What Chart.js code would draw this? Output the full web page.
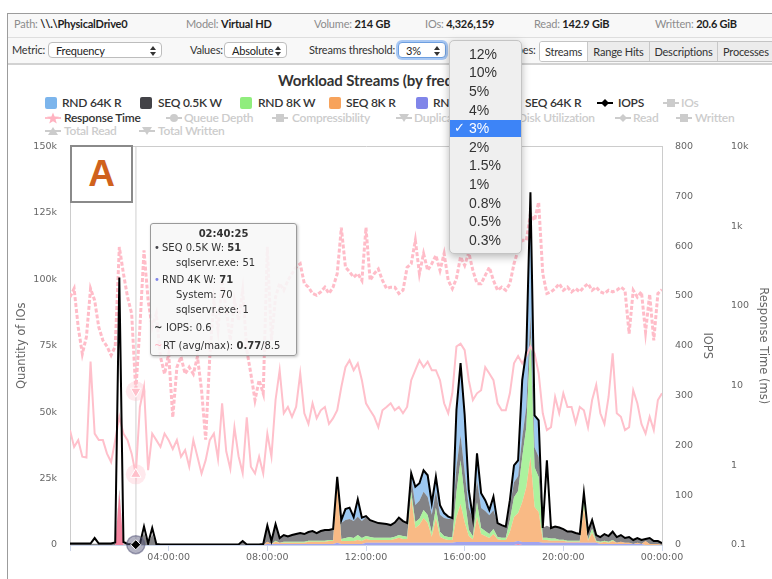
<!DOCTYPE html>
<html><head><meta charset="utf-8">
<script src="https://cdn.jsdelivr.net/npm/chart.js@4.4.1/dist/chart.umd.min.js"></script>
<style>
html,body{margin:0;padding:0;background:#fff;}
body{width:772px;height:579px;overflow:hidden;position:relative;font-family:Lato,"Noto Sans",sans-serif;color:#333;}
.a{position:absolute;white-space:nowrap;line-height:14px;}
#frame{position:absolute;left:7px;top:13px;width:765px;height:566px;border-left:1px solid #9c9c9c;border-top:1px solid #9c9c9c;}
#row1{position:absolute;left:8px;top:14px;width:764px;height:23px;background:#f8f8f8;border-bottom:1px solid #dedede;}
#row2{position:absolute;left:8px;top:38px;width:764px;height:25px;background:#f8f8f8;border-bottom:2px solid #d2d2d2;}
.h{font-size:11px;color:#8c8c8c;letter-spacing:-0.2px;}
.h b{color:#1e1e1e;font-weight:700;}
.c{font-size:11px;color:#333;letter-spacing:-0.2px;}
.sel{position:absolute;height:16px;border:1px solid #bdbdbd;border-radius:4px;background:#fff;font-size:11px;line-height:16px;padding-left:7px;box-sizing:border-box;color:#222;letter-spacing:-0.2px;white-space:nowrap;}
.sel svg{position:absolute;right:5px;top:3px;}
#btns{position:absolute;left:539px;top:41px;height:19px;width:240px;border:1px solid #c4c4c4;border-radius:3px;overflow:hidden;font-size:11px;letter-spacing:-0.2px;white-space:nowrap;}
#btns div{position:absolute;top:0;line-height:19px;height:19px;text-align:center;background:#ececec;border-left:1px solid #c8c8c8;color:#333;box-sizing:border-box;}
#btns div.on{background:#fff;border-left:none;}
#title{position:absolute;left:278px;top:72px;font-size:15px;font-weight:700;color:#333;line-height:16px;letter-spacing:-0.1px;white-space:nowrap;}
.lg{position:absolute;white-space:nowrap;font-size:12px;line-height:14px;color:#333;font-weight:600;letter-spacing:-0.25px;}
.lg.off{color:#cccccc;}
.lg svg{position:absolute;top:1px;}
#chartBox{position:absolute;left:8px;top:136px;width:764px;height:443px;}
#abox{position:absolute;left:70px;top:145px;width:59px;height:54px;border:2px solid #8a8a8a;background:#fff;text-align:center;font:bold 37px "Liberation Sans",Arial,sans-serif;line-height:54px;color:#d0621d;}
#tip{position:absolute;left:150px;top:223px;width:145px;height:131px;background:rgba(247,247,247,0.88);border:1px solid #9a9a9a;border-radius:3px;box-shadow:1px 1px 3px rgba(0,0,0,0.25);font-family:"DejaVu Sans",sans-serif;font-size:10px;color:#333;}
#tip .a{line-height:12px;}
#dd{position:absolute;left:449px;top:40px;width:71px;height:212px;background:#efefef;border:1px solid #c4c4c4;border-radius:5px;box-shadow:0 3px 9px rgba(0,0,0,0.28);font-family:"Liberation Sans",Arial,sans-serif;font-size:14px;color:#333;}
#dd .it{position:absolute;left:19px;line-height:16px;}
#dd .hl{position:absolute;left:0;width:71px;top:79px;height:17px;background:#3d84f7;}
</style></head>
<body>
<div id="frame"></div>
<div id="row1"></div>
<div id="row2"></div>
<div class="a h" style="left:14px;top:17px">Path: <b>\\.\PhysicalDrive0</b></div>
<div class="a h" style="left:186px;top:17px">Model: <b>Virtual HD</b></div>
<div class="a h" style="left:314px;top:17px">Volume: <b>214 GB</b></div>
<div class="a h" style="left:425px;top:17px">IOs: <b>4,326,159</b></div>
<div class="a h" style="left:534px;top:17px">Read: <b>142.9 GiB</b></div>
<div class="a h" style="left:655px;top:17px">Written: <b>20.6 GiB</b></div>

<div class="a c" style="left:12px;top:43px">Metric:</div>
<div class="sel" style="left:48px;top:42px;width:114px">Frequency<svg width="6" height="10"><path d="M3 0L6 4H0Z M3 10L6 6H0Z" fill="#333"/></svg></div>
<div class="a c" style="left:190px;top:43px">Values:</div>
<div class="sel" style="left:224px;top:42px;width:63px">Absolute<svg width="6" height="10"><path d="M3 0L6 4H0Z M3 10L6 6H0Z" fill="#333"/></svg></div>
<div class="a c" style="left:309px;top:43px">Streams threshold:</div>
<div class="sel" style="left:398px;top:42px;width:48px;border:1px solid #6d9fe0;box-shadow:0 0 0 2px #a9c8f3;">3%<svg width="6" height="10"><path d="M3 0L6 4H0Z M3 10L6 6H0Z" fill="#333"/></svg></div>
<div class="a c" style="left:506px;top:43px">Types:</div>
<div id="btns">
  <div class="on" style="left:0;width:47px">Streams</div>
  <div style="left:47px;width:62px">Range Hits</div>
  <div style="left:109px;width:68px">Descriptions</div>
  <div style="left:177px;width:63px;text-align:left;padding-left:5px">Processes</div>
</div>

<div id="title">Workload Streams (by frequency)</div>

<!-- legend row 1 -->
<div class="lg" style="left:45px;top:96px"><svg width="12" height="12" style="left:0"><rect width="12" height="12" rx="2" fill="#7cb5ec"/></svg><span style="margin-left:17px">RND 64K R</span></div>
<div class="lg" style="left:140px;top:96px"><svg width="12" height="12" style="left:0"><rect width="12" height="12" rx="2" fill="#434348"/></svg><span style="margin-left:18px">SEQ 0.5K W</span></div>
<div class="lg" style="left:240px;top:96px"><svg width="12" height="12" style="left:0"><rect width="12" height="12" rx="2" fill="#90ed7d"/></svg><span style="margin-left:18px">RND 8K W</span></div>
<div class="lg" style="left:329px;top:96px"><svg width="12" height="12" style="left:0"><rect width="12" height="12" rx="2" fill="#f7a35c"/></svg><span style="margin-left:17px">SEQ 8K R</span></div>
<div class="lg" style="left:416px;top:96px"><svg width="12" height="12" style="left:0"><rect width="12" height="12" rx="2" fill="#8085e9"/></svg><span style="margin-left:17px">RND 4K W</span></div>
<div class="lg" style="left:508px;top:96px"><svg width="12" height="12" style="left:0"><rect width="12" height="12" rx="2" fill="#f15c80"/></svg><span style="margin-left:17px">SEQ 64K R</span></div>
<div class="lg" style="left:597px;top:96px"><svg width="16" height="12" style="left:0"><line x1="0" y1="6" x2="16" y2="6" stroke="#000" stroke-width="2"/><path d="M8 2L12 6L8 10L4 6Z" fill="#000"/></svg><span style="margin-left:21px">IOPS</span></div>
<div class="lg off" style="left:663px;top:96px"><svg width="16" height="12" style="left:0"><line x1="0" y1="6" x2="16" y2="6" stroke="#ccc" stroke-width="2"/><rect x="4" y="2" width="8" height="8" fill="#ccc"/></svg><span style="margin-left:18px">IOs</span></div>
<!-- legend row 2 -->
<div class="lg" style="left:45px;top:111px"><svg width="16" height="12" style="left:0"><line x1="0" y1="6" x2="16" y2="6" stroke="#ffc0cb" stroke-width="2"/><polygon points="8,0.5 9.6,4.6 14,4.8 10.5,7.5 11.8,11.6 8,9.2 4.2,11.6 5.5,7.5 2,4.8 6.4,4.6" fill="#ffb3c1"/></svg><span style="margin-left:19px">Response Time</span></div>
<div class="lg off" style="left:166px;top:111px"><svg width="16" height="12" style="left:0"><line x1="0" y1="6" x2="16" y2="6" stroke="#ccc" stroke-width="2"/><circle cx="8" cy="6" r="4" fill="#ccc"/></svg><span style="margin-left:18px">Queue Depth</span></div>
<div class="lg off" style="left:272px;top:111px"><svg width="16" height="12" style="left:0"><line x1="0" y1="6" x2="16" y2="6" stroke="#ccc" stroke-width="2"/><rect x="4" y="2" width="8" height="8" fill="#ccc"/></svg><span style="margin-left:20px">Compressibility</span></div>
<div class="lg off" style="left:396px;top:111px"><svg width="16" height="12" style="left:0"><line x1="0" y1="6" x2="16" y2="6" stroke="#ccc" stroke-width="2"/><path d="M3 2H13L8 10Z" fill="#ccc"/></svg><span style="margin-left:18px">Duplicates</span></div>
<div class="lg off" style="left:500px;top:111px"><svg width="16" height="12" style="left:0"><line x1="0" y1="6" x2="16" y2="6" stroke="#ccc" stroke-width="2"/><path d="M8 2L12 6L8 10L4 6Z" fill="#ccc"/></svg><span style="margin-left:18px">Disk Utilization</span></div>
<div class="lg off" style="left:615px;top:111px"><svg width="16" height="12" style="left:0"><line x1="0" y1="6" x2="16" y2="6" stroke="#ccc" stroke-width="2"/><path d="M8 2L12 6L8 10L4 6Z" fill="#ccc"/></svg><span style="margin-left:18px">Read</span></div>
<div class="lg off" style="left:676px;top:111px"><svg width="16" height="12" style="left:0"><line x1="0" y1="6" x2="16" y2="6" stroke="#ccc" stroke-width="2"/><rect x="4" y="2" width="8" height="8" fill="#ccc"/></svg><span style="margin-left:19px">Written</span></div>
<!-- legend row 3 -->
<div class="lg off" style="left:45px;top:124px"><svg width="16" height="12" style="left:0"><line x1="0" y1="6" x2="16" y2="6" stroke="#ccc" stroke-width="2"/><path d="M8 2L13 10H3Z" fill="#ccc"/></svg><span style="margin-left:19px">Total Read</span></div>
<div class="lg off" style="left:139px;top:124px"><svg width="16" height="12" style="left:0"><line x1="0" y1="6" x2="16" y2="6" stroke="#ccc" stroke-width="2"/><path d="M3 2H13L8 10Z" fill="#ccc"/></svg><span style="margin-left:19px">Total Written</span></div>

<div id="chartBox"><canvas id="c" width="764" height="443"></canvas></div>

<div id="abox">A</div>

<div id="tip">
  <div class="a" style="left:0;width:145px;text-align:center;top:4px;font-weight:bold">02:40:25</div>
  <div class="a" style="left:3px;top:18px;color:#434348">•</div>
  <div class="a" style="left:11px;top:18px">SEQ 0.5K W: <b>51</b></div>
  <div class="a" style="left:25px;top:33px">sqlservr.exe: 51</div>
  <div class="a" style="left:3px;top:50px;color:#8085e9">•</div>
  <div class="a" style="left:11px;top:50px">RND 4K W: <b>71</b></div>
  <div class="a" style="left:25px;top:65px">System: 70</div>
  <div class="a" style="left:25px;top:80px">sqlservr.exe: 1</div>
  <div class="a" style="left:3px;top:98px"><b>~</b></div>
  <div class="a" style="left:15px;top:98px">IOPS: 0.6</div>
  <div class="a" style="left:3px;top:116px;color:#ffb3c1">~</div>
  <div class="a" style="left:12px;top:116px">RT (avg/max): <b>0.77</b>/8.5</div>
</div>

<div id="dd">
  <div class="hl"></div>
  <div class="it" style="top:5px">12%</div>
  <div class="it" style="top:23px">10%</div>
  <div class="it" style="top:42px">5%</div>
  <div class="it" style="top:61px">4%</div>
  <div class="it" style="top:79px;color:#fff">3%</div>
  <div class="it" style="left:4px;top:79px;color:#fff;font-size:13px">✓</div>
  <div class="it" style="top:98px">2%</div>
  <div class="it" style="top:116px">1.5%</div>
  <div class="it" style="top:135px">1%</div>
  <div class="it" style="top:154px">0.8%</div>
  <div class="it" style="top:172px">0.5%</div>
  <div class="it" style="top:191px">0.3%</div>
</div>

<script>
// ---------------- data (10-minute samples, 00:00 .. 24:00) ----------------
const stepMinutes = 10;
const hoverTime = '02:40:25';
const hoverIndex = 16;

// IOPS (right axis)
const iops = [
  3,3,3,3,3,3,14,3,3,3,3,5,
  537,6,2,1,0.6,2,37,3,34,2,1,1,
  1,1,1,1,1,1,1,1,1,1,1,1,
  1,1,1,1,1,1,8,1,1,1,1,2,
  39,8,42,14,20,17,20,22,24,22,26,28,
  24,28,30,30,32,137,50,72,75,56,92,55,
  58,50,47,44,43,42,40,45,55,48,44,144,
  117,124,150,140,84,137,80,64,57,54,271,365,
  261,110,54,184,104,90,70,97,44,40,37,90,
  160,170,331,391,708,260,250,34,170,34,37,35,
  32,27,27,24,22,105,27,50,20,16,22,18,
  27,16,20,14,16,10,14,10,12,14,8,8,
  4
];
// Response time average (ms, log axis)
const rtAvg = [
  2.76,1.7,2.07,1.28,1.25,20,2.5,2.07,2.07,1.4,1.1,2.07,
  4.06,2.5,2.07,1.4,0.77,5.4,9.6,0.87,2.5,2.07,1.7,2.5,
  2.07,1.6,2.07,1.28,1.55,0.96,2.07,1.28,0.79,1.16,2.07,2.5,
  1.2,6,1.5,0.9,3,1.3,0.8,4,0.96,0.79,1.28,0.79,
  2.5,1.28,6.6,15.6,4.5,5.4,4.06,5.4,14.2,4.5,3.3,6,
  3.9,4.9,5.4,3.3,3.9,4.9,9.6,17,20.8,15.6,19,11.7,
  6,4.9,4.06,3,4.9,5.4,6,4.9,5.4,4.5,5.4,11.7,
  15.6,20.8,17,20,15.6,15.6,11.7,6,4.5,8,31,33.6,
  27.8,11.7,6.6,8,8.75,17,14.2,11.7,6,4.9,4.9,8,
  19,23.5,19,23.5,31,25.4,14.2,4.5,2.76,3,7.2,4.5,
  8,5.4,5.4,3.4,5.4,4.9,3,6.6,10.2,4.5,3.3,7.2,
  25.4,4.5,4.06,2.76,3,8.75,6,3.3,2.5,4.06,2.76,6.6,
  8
];
// Response time maximum (ms, log axis)
const rtMax = [
  129,165,54,25,41,165,117,54,37,31,24,31,
  548,254,129,80,8.5,54,498,117,54,80,23,14,
  25,4,17,23,14,17,14,23,8.8,2.1,23,117,
  50,209,88,37,117,66,157,28,14,6.6,11.7,8,
  550,37,129,192,157,209,254,305,338,190,172,143,
  136,150,172,143,172,254,960,305,268,229,254,209,
  960,209,254,290,209,165,172,172,143,157,305,338,
  664,254,453,279,338,431,279,453,209,165,220,412,
  322,466,279,190,190,241,305,209,157,172,157,190,
  338,498,664,664,1430,1180,2000,254,143,150,165,190,
  157,172,150,165,150,172,190,157,172,150,143,157,
  150,157,172,157,45,157,129,150,47,140,37,143,
  160
];
// Stream quantities (IOs per sample, left axis, stacked)
const seq64kR = [
  0,0,0,0,0,0,0,0,0,0,0,0,
  20000,0,0,0,0,0,0,0,0,0,0,0,
  0,0,0,0,0,0,0,0,0,0,0,0,
  0,0,0,0,0,0,0,0,0,0,0,0,
  0,0,0,0,0,0,0,0,0,0,0,0,
  0,0,0,0,0,0,0,0,0,0,0,0,
  0,0,0,0,0,0,0,0,0,0,0,0,
  0,0,0,0,0,0,0,0,0,0,0,0,
  0,0,0,0,0,0,0,0,0,0,0,0,
  0,400,0,0,0,0,0,0,0,0,0,0,
  0,0,0,0,0,0,0,0,0,0,0,0,
  0,0,0,0,0,0,0,0,0,0,0,0,
  0
];
const rnd4kW = [
  0,0,0,0,0,0,0,0,0,0,0,0,
  0,0,0,0,71,0,0,0,0,0,0,0,
  0,0,0,0,0,0,0,0,0,0,0,0,
  0,0,0,0,0,0,0,0,0,0,0,0,
  400,400,400,400,400,400,400,400,400,400,400,400,
  400,400,400,400,400,800,400,400,400,400,400,400,
  800,800,800,800,800,800,800,800,800,800,800,800,
  800,800,800,800,800,800,800,800,800,800,1100,1100,
  1100,1100,1100,1100,1100,1100,1100,1100,1100,1100,1100,1100,
  1100,1100,1100,1100,1100,1100,1100,800,800,800,800,800,
  800,800,800,800,800,800,800,800,800,400,400,400,
  400,400,400,400,400,400,400,400,0,0,0,0,
  0
];
const seq8kR = [
  0,0,0,0,0,0,0,0,0,0,0,0,
  0,0,0,0,0,0,0,0,0,0,0,0,
  0,0,0,0,0,0,0,0,0,0,0,0,
  0,0,0,0,0,0,0,0,0,0,0,0,
  800,0,800,400,400,400,400,400,400,400,800,800,
  800,800,800,1100,1100,22600,1100,1100,1100,1100,1500,1100,
  1500,1100,1100,1100,1100,1100,1100,1500,1900,1500,1500,16900,
  5600,6800,9400,7500,2300,9400,2300,1500,1100,1100,9400,14300,
  7500,2300,1100,9400,3000,2300,1500,3000,1100,800,800,3800,
  9400,10500,15000,20700,32000,13200,11300,1100,1100,800,800,800,
  800,400,400,400,400,13200,800,3800,400,400,800,400,
  1100,400,800,400,400,0,400,0,1500,400,400,400,
  0
];
const rnd8kW = [
  0,0,0,0,0,0,0,0,0,0,0,0,
  0,0,0,0,0,0,0,0,0,0,0,0,
  0,0,0,0,0,0,0,0,0,0,0,0,
  0,0,0,0,0,0,0,0,0,0,0,0,
  0,0,400,0,400,400,400,400,400,400,400,400,
  400,400,400,400,400,400,800,1100,1500,1100,1900,1100,
  1100,1100,800,800,800,800,800,800,1100,1100,800,2300,
  2300,2300,3000,3000,1500,3800,1900,1100,1100,1100,9400,16500,
  9400,2300,1100,5600,2300,1900,1500,1900,800,800,800,4500,
  7500,8300,16900,22600,45100,15000,13200,800,800,800,800,400,
  400,400,400,400,400,3000,400,1500,400,400,400,400,
  400,0,0,0,0,0,0,0,0,0,0,0,
  0
];
const seq05kW = [
  500,500,500,500,500,500,500,500,500,500,500,500,
  1000,200,200,200,51,200,4500,200,4000,200,200,200,
  100,100,100,100,100,100,100,100,100,100,100,100,
  100,100,100,100,100,100,1500,100,100,100,100,100,
  6000,1100,6400,1900,2600,2300,2600,3000,3400,3000,3400,3800,
  3000,3800,4100,3800,4100,1900,6000,6800,6800,6400,6800,6400,
  7100,6400,6000,5600,5300,5300,4900,5300,6400,5600,5300,5300,
  6400,6800,6800,6800,6800,6000,6400,6800,6800,6800,9400,9400,
  9400,8300,6400,8300,7500,7500,7100,7100,5300,4900,4100,5300,
  5600,5600,7500,7500,8300,7500,7500,3800,4500,4100,4500,4500,
  4100,3400,3400,3000,2600,2300,3000,3000,2300,1900,2600,2300,
  3000,2300,2600,1900,2300,1500,1900,1500,800,1900,1100,1100,
  800
];
const rnd64kR = [
  0,0,0,0,0,0,0,0,0,0,0,0,
  0,0,0,0,0,0,0,0,0,0,0,0,
  0,0,0,0,0,0,0,0,0,0,0,0,
  0,0,0,0,0,0,0,0,0,0,0,0,
  0,0,0,0,0,0,0,0,0,0,0,0,
  0,0,0,0,0,0,1100,4100,4100,1500,6800,1100,
  400,0,0,0,0,0,0,0,0,0,0,1900,
  6800,6800,8300,8300,4500,5600,3800,1900,800,400,21400,27100,
  21400,6800,400,10200,5600,4100,1900,4900,0,0,0,2300,
  6400,6400,21400,21400,46200,12000,13900,0,0,0,0,0,
  0,0,0,0,0,0,0,400,0,0,0,0,
  0,0,0,0,0,0,0,0,0,0,0,0,
  0
];

// axis tick labels
const timeTickLabels = ['', '04:00:00', '08:00:00', '12:00:00', '16:00:00', '20:00:00', '00:00:00'];
const iosTickLabels = ['0', '25k', '50k', '75k', '100k', '125k', '150k'];
const rtTicks = [0.1, 1, 10, 100, 1000, 10000];
const rtTickLabels = ['0.1', '1', '10', '100', '1k', '10k'];

// ---------------- chart ----------------
const hours = iops.map((_, i) => i * stepMinutes / 60);
const pts = arr => arr.map((v, i) => ({x: hours[i], y: v}));
const hp = hoverTime.split(':').map(Number);
const hoverHour = hp[0] + hp[1] / 60 + hp[2] / 3600;

function rgba(hex, a) {
  const n = parseInt(hex.slice(1), 16);
  return `rgba(${(n >> 16) & 255},${(n >> 8) & 255},${n & 255},${a})`;
}

const stackSeries = [
  ['SEQ 64K R', seq64kR, '#f15c80', 0.75],
  ['RND 4K W', rnd4kW, '#8085e9', 0.75],
  ['SEQ 8K R', seq8kR, '#f7a35c', 0.75],
  ['RND 8K W', rnd8kW, '#90ed7d', 0.75],
  ['SEQ 0.5K W', seq05kW, '#434348', 0.66],
  ['RND 64K R', rnd64kR, '#7cb5ec', 0.75],
];

const datasets = [];
// hover markers (on top)
datasets.push({label: 'iopsHalo', data: [{x: hours[hoverIndex], y: iops[hoverIndex]}], yAxisID: 'yIops', xAxisID: 'x', showLine: false,
  pointRadius: 9, pointBackgroundColor: 'rgba(85,85,120,0.45)', pointBorderColor: 'rgba(85,85,120,0.55)', pointBorderWidth: 1.5, order: 1, clip: false});
datasets.push({label: 'iopsMarker', data: [{x: hours[hoverIndex], y: iops[hoverIndex]}], yAxisID: 'yIops', xAxisID: 'x', showLine: false,
  pointStyle: 'rectRot', pointRadius: 5, pointBackgroundColor: '#000', pointBorderColor: '#fff', pointBorderWidth: 1, order: 0, clip: false});
datasets.push({label: 'rtMaxHalo', data: [{x: hours[hoverIndex], y: rtMax[hoverIndex]}], yAxisID: 'yRt', xAxisID: 'x', showLine: false,
  pointRadius: 10, pointBackgroundColor: 'rgba(255,192,203,0.35)', pointBorderWidth: 0, order: 1});
datasets.push({label: 'rtMaxMarker', data: [{x: hours[hoverIndex], y: rtMax[hoverIndex]}], yAxisID: 'yRt', xAxisID: 'x', showLine: false,
  pointStyle: 'triangle', rotation: 180, pointRadius: 6, pointBackgroundColor: '#ffc0cb', pointBorderColor: '#fff', pointBorderWidth: 1, order: 0});
datasets.push({label: 'rtAvgHalo', data: [{x: hours[hoverIndex], y: rtAvg[hoverIndex]}], yAxisID: 'yRt', xAxisID: 'x', showLine: false,
  pointRadius: 10, pointBackgroundColor: 'rgba(255,192,203,0.35)', pointBorderWidth: 0, order: 1});
datasets.push({label: 'rtAvgMarker', data: [{x: hours[hoverIndex], y: rtAvg[hoverIndex]}], yAxisID: 'yRt', xAxisID: 'x', showLine: false,
  pointStyle: 'triangle', pointRadius: 6, pointBackgroundColor: '#ffc0cb', pointBorderColor: '#fff', pointBorderWidth: 1, order: 0});
// lines
datasets.push({label: 'IOPS', data: pts(iops), yAxisID: 'yIops', xAxisID: 'x', borderColor: '#000', borderWidth: 2,
  pointRadius: 0, fill: false, tension: 0, order: 2});
datasets.push({label: 'Response Time (avg)', data: pts(rtAvg), yAxisID: 'yRt', xAxisID: 'x', borderColor: '#ffc0cb', borderWidth: 2,
  pointRadius: 0, fill: false, tension: 0, order: 3});
datasets.push({label: 'Response Time (max)', data: pts(rtMax), yAxisID: 'yRt', xAxisID: 'x', borderColor: '#ffbcc8', borderWidth: 3,
  borderDash: [4, 2], pointRadius: 0, fill: false, tension: 0, order: 4});
// stacked areas
stackSeries.forEach(([label, arr, color, alpha], k) => {
  datasets.push({label, data: pts(arr), yAxisID: 'yIos', xAxisID: 'x', borderColor: 'rgba(0,0,0,0)', borderWidth: 1,
    backgroundColor: rgba(color, alpha), fill: k === 0 ? 'origin' : '-1', pointRadius: 0, tension: 0, order: 10});
});
// crosshair (behind everything)
datasets.push({label: 'crosshair', data: [{x: hoverHour, y: 0}, {x: hoverHour, y: 800}], yAxisID: 'yIops', xAxisID: 'x',
  borderColor: '#cfcfcf', borderWidth: 1, pointRadius: 0, fill: false, order: 20});

Chart.defaults.font.family = '"DejaVu Sans", sans-serif';
Chart.defaults.color = '#666';

const PLOT_TOP = 10, PLOT_BOTTOM = 409;
const tickFont = {size: 9.5};
const titleFont = {size: 11.5};

const chart = new Chart(document.getElementById('c'), {
  type: 'line',
  data: {datasets},
  options: {
    responsive: false, animation: false, events: [],
    layout: {padding: {top: 0, bottom: 10, left: 0, right: 0}},
    plugins: {legend: {display: false}, tooltip: {enabled: false}, title: {display: false}},
    scales: {
      x: {type: 'linear', position: 'bottom', min: 0, max: 24,
        afterFit: s => { s.height = 24; },
        ticks: {stepSize: 4, autoSkip: false, maxRotation: 0, padding: 1, font: tickFont, color: '#666',
          callback: (v, i) => timeTickLabels[i]},
        grid: {display: true, drawOnChartArea: false, drawTicks: true, tickLength: 6, color: '#ccd6eb'},
        border: {display: true, color: '#ccd6eb'}},
      xTop: {type: 'linear', position: 'top', min: 0, max: 24,
        afterFit: s => { s.height = 0; },
        ticks: {display: false}, grid: {display: false, drawTicks: false}, border: {display: true, color: '#cccccc'}},
      yIos: {type: 'linear', position: 'left', stacked: true, min: 0, max: 150000,
        afterFit: s => { s.width = 62; },
        ticks: {stepSize: 25000, autoSkip: false, padding: 3, font: tickFont, color: '#666',
          callback: (v, i) => iosTickLabels[i]},
        grid: {display: true, drawOnChartArea: false, drawTicks: true, tickLength: 10, tickColor: 'rgba(0,0,0,0)'},
        border: {display: true, color: '#cccccc'},
        title: {display: true, text: 'Quantity of IOs', font: titleFont, color: '#666', padding: {top: 7, bottom: 0}}},
      yIops: {type: 'linear', position: 'right', min: 0, max: 800,
        afterFit: s => { s.width = 56; },
        ticks: {stepSize: 100, autoSkip: false, padding: 3, font: tickFont, color: '#666'},
        grid: {display: true, drawOnChartArea: false, drawTicks: true, tickLength: 10, tickColor: 'rgba(0,0,0,0)'},
        border: {display: true, color: '#cccccc'},
        title: {display: true, text: 'IOPS', font: titleFont, color: '#666', padding: {top: 4, bottom: 0}}},
      yRt: {type: 'logarithmic', position: 'right', min: 0.1, max: 10000,
        afterFit: s => { s.width = 54; },
        afterBuildTicks: s => { s.ticks = rtTicks.map(v => ({value: v})); },
        ticks: {autoSkip: false, padding: 3, font: tickFont, color: '#666',
          callback: v => rtTickLabels[rtTicks.indexOf(v)]},
        grid: {display: true, drawOnChartArea: false, drawTicks: true, tickLength: 10, tickColor: 'rgba(0,0,0,0)'},
        border: {display: false},
        title: {display: true, text: 'Response Time (ms)', font: titleFont, color: '#666', padding: {top: 2, bottom: 0}}}
    }
  }
});
// align the plot area with the reference frame
const ca = chart.chartArea;
chart.options.layout.padding.top += PLOT_TOP - ca.top;
chart.options.layout.padding.bottom += ca.bottom - PLOT_BOTTOM;
chart.update();
</script>
</body></html>
